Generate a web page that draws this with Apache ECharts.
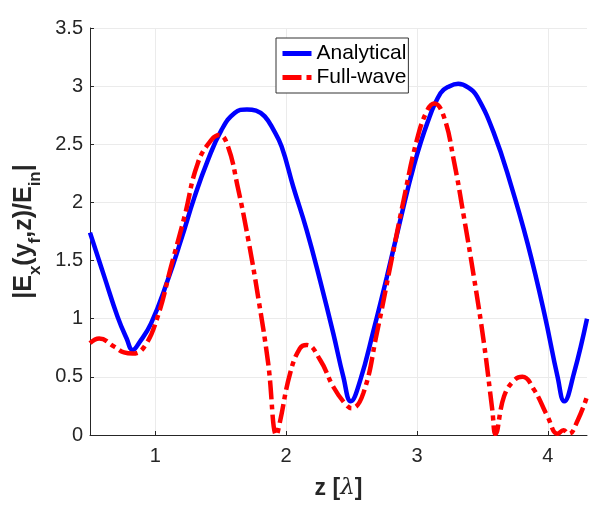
<!DOCTYPE html>
<html>
<head>
<meta charset="utf-8">
<script src="https://cdn.jsdelivr.net/npm/echarts@6/dist/echarts.min.js"></script>
<style>
html, body { margin: 0; padding: 0; background: #fff; }
#chart { width: 605px; height: 513px; }
</style>
</head>
<body>
<div id="chart"></div>
<script>
// values
var analyticalZ = [0.5, 0.61, 0.71, 0.78, 0.826, 0.88, 0.967, 1.094, 1.197, 1.30, 1.40, 1.504, 1.606, 1.70, 1.77, 1.836, 1.90, 1.965, 2.054, 2.157, 2.259, 2.36, 2.437, 2.494, 2.566, 2.668, 2.77, 2.873, 2.975, 3.078, 3.18, 3.25, 3.315, 3.39, 3.46, 3.59, 3.716, 3.845, 3.973, 4.075, 4.126, 4.20, 4.30];
var analyticalE = [1.74, 1.36, 1.02, 0.83, 0.73, 0.80, 0.96, 1.33, 1.68, 2.05, 2.36, 2.62, 2.77, 2.80, 2.79, 2.74, 2.63, 2.48, 2.135, 1.76, 1.33, 0.874, 0.50, 0.29, 0.47, 0.90, 1.36, 1.85, 2.31, 2.68, 2.94, 3.00, 3.02, 2.99, 2.91, 2.59, 2.16, 1.65, 1.05, 0.50, 0.29, 0.53, 1.00];

var fullwaveZ = [0.5, 0.57, 0.685, 0.76, 0.826, 0.916, 1.018, 1.12, 1.223, 1.325, 1.43, 1.49, 1.555, 1.63, 1.71, 1.785, 1.862, 1.926, 1.95, 2.03, 2.105, 2.157, 2.26, 2.36, 2.45, 2.50, 2.59, 2.693, 2.796, 2.898, 3.0, 3.078, 3.133, 3.205, 3.282, 3.358, 3.435, 3.512, 3.576, 3.60, 3.665, 3.742, 3.806, 3.895, 3.998, 4.075, 4.12, 4.16, 4.23, 4.30];
var fullwaveE = [0.79, 0.83, 0.76, 0.71, 0.70, 0.76, 1.02, 1.45, 1.88, 2.34, 2.54, 2.58, 2.48, 2.13, 1.68, 1.19, 0.62, 0.0, 0.10, 0.53, 0.745, 0.774, 0.645, 0.415, 0.27, 0.23, 0.36, 0.875, 1.45, 2.02, 2.54, 2.79, 2.85, 2.74, 2.36, 1.88, 1.36, 0.79, 0.215, 0.01, 0.33, 0.47, 0.50, 0.39, 0.16, 0.01, 0.04, 0.01, 0.13, 0.33];

var seriesNames = ['Analytical', 'Full-wave'];
var zTicks = [1, 2, 3, 4];

function pairs(xs, ys) {
    var out = [];
    for (var i = 0; i < xs.length; i++) {
        out.push([xs[i], ys[i]]);
    }
    return out;
}

var font = 'Arial, "Liberation Sans", Helvetica, sans-serif';
var axisColor = '#262626';

var chart = echarts.init(document.getElementById('chart'));
var option = {
    animation: false,
    backgroundColor: '#fff',
    textStyle: { fontFamily: font },
    grid: { left: 90, right: 18, top: 28, bottom: 78 },
    legend: {
        orient: 'vertical',
        left: 276,
        top: 38,
        padding: [5, 2, 5, 4],
        itemGap: 3,
        itemWidth: 29,
        itemHeight: 14,
        backgroundColor: '#fff',
        borderColor: '#333',
        borderWidth: 1,
        borderRadius: 0,
        itemStyle: { opacity: 0 },
        lineStyle: { width: 5 },
        textStyle: { fontSize: 21, color: '#000', fontFamily: font },
        data: seriesNames
    },
    xAxis: {
        type: 'value',
        min: 0.5,
        max: 4.3,
        name: '{b|z [}{l|λ}{b|]}',
        nameLocation: 'middle',
        nameGap: 42,
        nameTextStyle: {
            rich: {
                b: { fontSize: 23, fontWeight: 'bold', color: axisColor, fontFamily: font },
                l: { fontSize: 23, fontStyle: 'italic', color: axisColor, fontFamily: '"DejaVu Serif", serif' }
            }
        },
        axisLine: { show: true, lineStyle: { color: axisColor, width: 1 } },
        axisTick: { show: true, inside: true, length: 4, lineStyle: { color: axisColor }, customValues: zTicks },
        axisLabel: { fontSize: 20, color: axisColor, margin: 11, customValues: zTicks },
        splitLine: { show: true, lineStyle: { color: '#ebebeb', width: 1 } }
    },
    yAxis: {
        type: 'value',
        min: 0,
        max: 3.5,
        interval: 0.5,
        name: '{b||E}{s|x}{b|(y}{s|f}{b|,z)/E}{s|in}{b||}',
        nameLocation: 'middle',
        nameGap: 48,
        nameRotate: 90,
        nameTextStyle: {
            rich: {
                b: { fontSize: 25, fontWeight: 'bold', color: axisColor, fontFamily: font, lineHeight: 30, verticalAlign: 'bottom' },
                s: { fontSize: 17, fontWeight: 'bold', color: axisColor, fontFamily: font, lineHeight: 30, verticalAlign: 'bottom', padding: [0, 0, -8, 0] }
            }
        },
        axisLine: { show: true, lineStyle: { color: axisColor, width: 1 } },
        axisTick: { show: true, inside: true, length: 4, lineStyle: { color: axisColor } },
        axisLabel: { fontSize: 20, color: axisColor, margin: 7 },
        splitLine: { show: true, lineStyle: { color: '#ebebeb', width: 1 } }
    },
    series: [
        {
            name: seriesNames[0],
            type: 'line',
            data: pairs(analyticalZ, analyticalE),
            smooth: 0.45,
            showSymbol: false,
            symbol: 'none',
            color: '#0000ff',
            lineStyle: { color: '#0000ff', width: 4.5 },
            z: 2
        },
        {
            name: seriesNames[1],
            type: 'line',
            data: pairs(fullwaveZ, fullwaveE),
            smooth: 0.45,
            showSymbol: false,
            symbol: 'none',
            color: '#ff0000',
            lineStyle: { color: '#ff0000', width: 4.5, type: [19, 5, 5, 5] },
            z: 3
        }
    ]
};
chart.setOption(option);
</script>
</body>
</html>
